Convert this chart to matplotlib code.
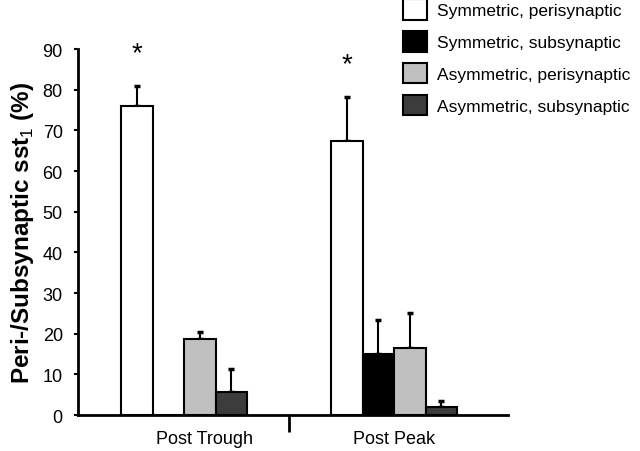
import numpy as np
import matplotlib.pyplot as plt
from matplotlib.transforms import ScaledTranslation

plt.rcParams['font.family'] = ['Liberation Sans', 'DejaVu Sans']
plt.rcParams['mathtext.fontset'] = 'custom'
plt.rcParams['mathtext.rm'] = 'Liberation Sans'
plt.rcParams['mathtext.bf'] = 'Liberation Sans:bold'

# data
groups = ['Post Trough', 'Post Peak']
series = ['Symmetric, perisynaptic', 'Symmetric, subsynaptic',
          'Asymmetric, perisynaptic', 'Asymmetric, subsynaptic']
means = [[76.0, 67.5],
         [0.0, 15.0],
         [18.7, 16.6],
         [5.6, 1.9]]
errs = [[4.8, 10.8],
        [0.0, 8.4],
        [1.8, 8.4],
        [5.7, 1.5]]
colors = ['white', 'black', '#c0c0c0', '#3c3c3c']
star_y = [89.0, 86.3]   # significance marks over symmetric perisynaptic

fig = plt.figure(figsize=(6.4, 4.52), dpi=100)
ax = fig.add_axes([0.122, 0.0796, 0.672, 0.8097])

x = np.arange(len(groups))
w = 0.15
for k in range(len(series)):
    pos = x + (k - 1.5) * w
    m = np.array(means[k])
    e = np.array(errs[k])
    ax.bar(pos, m, w, color=colors[k], edgecolor='black', linewidth=1.5,
           label=series[k], zorder=2)
    show = e > 0
    ax.errorbar(pos[show], m[show], yerr=[np.zeros(show.sum()), e[show]],
                fmt='none', ecolor='black', elinewidth=1.5, capsize=2,
                capthick=2.5, zorder=1)

for i, yy in enumerate(star_y):
    ax.text(x[i] - 1.5 * w, yy, '*', ha='center', va='center', fontsize=20)

ax.set_xlim(-0.505, 1.543)
ax.set_ylim(0, 90)
ax.set_yticks(np.arange(0, 91, 10))
ax.set_xticks(x)
ax.set_xticklabels(groups, fontsize=13)
ax.set_xticks([0.5], minor=True)
ax.tick_params(axis='x', which='major', length=0, pad=11)
ax.tick_params(axis='x', which='minor', length=12, width=2, direction='out')
ax.tick_params(axis='y', length=3, width=1.5, pad=8, labelsize=13)
lbl = ax.get_xticklabels()[0]
lbl.set_transform(lbl.get_transform() + ScaledTranslation(0.2, 0, fig.dpi_scale_trans))

for sp in ['top', 'right']:
    ax.spines[sp].set_visible(False)
for sp in ['left', 'bottom']:
    ax.spines[sp].set_linewidth(2)

ax.set_ylabel('Peri-/Subsynaptic sst$_1$ (%)', fontsize=17.5, fontweight='bold', labelpad=5)

fig.legend(loc='upper left', bbox_to_anchor=(403 / 640, 1.0), frameon=False,
           fontsize=12.5, handleheight=1.45, handlelength=1.38, handletextpad=0.6,
           labelspacing=0.65, borderpad=0, borderaxespad=0)

fig.savefig('out.png', dpi=100)
